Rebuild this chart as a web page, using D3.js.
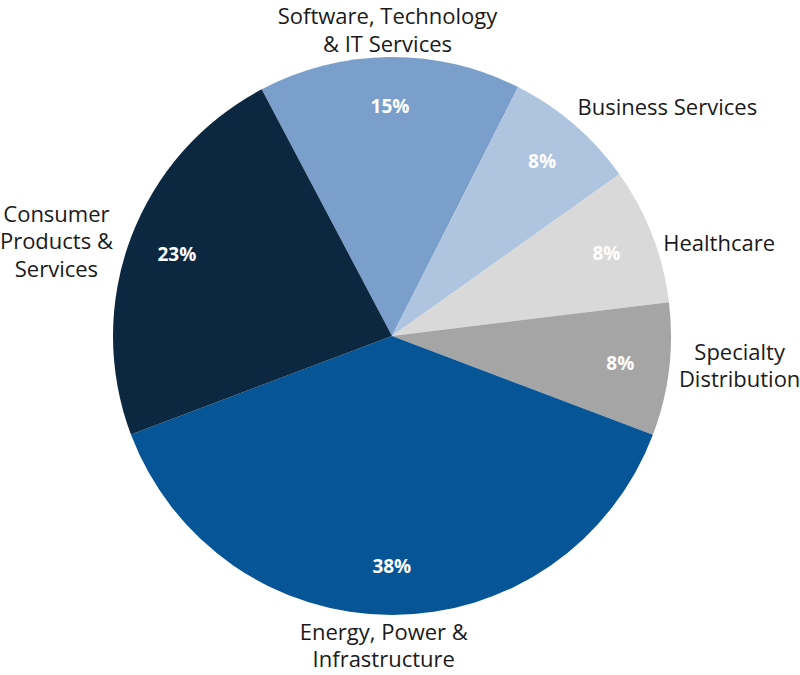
<!DOCTYPE html>
<html><head><meta charset="utf-8">
<script src="https://cdn.jsdelivr.net/npm/d3@7"></script>
<style>body{margin:0;background:#fff}svg{display:block}</style>
</head><body>
<svg id="c" width="800" height="675"></svg>
<script>
const categories = [
  ["Software, Technology", "& IT Services"],
  ["Business Services"],
  ["Healthcare"],
  ["Specialty", "Distribution"],
  ["Energy, Power &", "Infrastructure"],
  ["Consumer", "Products &", "Services"]
];
const values = [15.2, 7.7, 7.9, 7.7, 38.5, 23.0];
const pctLabels = ["15%", "8%", "8%", "8%", "38%", "23%"];
const colors = ["#7b9fcb", "#afc4df", "#d9d9d9", "#a5a5a5", "#065597", "#0c2840"];
// layout tweaks for outside labels (pixels)
const labelNudge = [[-2, 6], [-5, -7], [-1, 13], [-3, -5], [-8, 0], [-6, 9]];

const svg = d3.select("#c");
const cx = 392, cy = 336, r = 279;
const g = svg.append("g").attr("transform", `translate(${cx},${cy})`);
const start = -27.85 * Math.PI / 180;
const pie = d3.pie().sort(null).value(d => d).startAngle(start).endAngle(start + 2 * Math.PI);
const arcs = pie(values);
const arc = d3.arc().innerRadius(0).outerRadius(r);

g.selectAll("path.slice").data(arcs).join("path")
  .attr("class", "slice")
  .attr("d", arc)
  .attr("fill", (d, i) => colors[i]);

const pctArc = d3.arc().innerRadius(230).outerRadius(230);
g.selectAll("text.pct").data(arcs).join("text")
  .attr("class", "pct")
  .attr("transform", d => `translate(${pctArc.centroid(d)})`)
  .attr("text-anchor", "middle")
  .attr("dy", "0.35em")
  .attr("fill", "#fff")
  .style("font-family", "'Open Sans', sans-serif")
  .style("font-weight", "700")
  .style("font-size", "19px")
  .text((d, i) => pctLabels[i]);

const lh = 27.5;
const labelR = 292;
arcs.forEach((d, i) => {
  const a = (d.startAngle + d.endAngle) / 2;
  const s = Math.sin(a), c = -Math.cos(a);
  const px = labelR * s, py = labelR * c;
  const lines = categories[i];
  const t = g.append("text")
    .attr("text-anchor", "middle")
    .attr("fill", "#1a1a1a")
    .style("font-family", "'Open Sans', sans-serif")
    .style("font-size", "22px");
  lines.forEach((ln, j) => {
    t.append("tspan").attr("x", 0).attr("y", j * lh).attr("dy", "0.35em").text(ln);
  });
  const w = t.node().getBBox().width;
  const h = (lines.length - 1) * lh;
  let x = px, y;
  if (s > 0.3) x = px + w / 2;
  else if (s < -0.3) x = px - w / 2;
  if (Math.abs(s) <= 0.3) {
    if (c < 0) y = -r - 19 - h;
    else y = r + 17;
  } else {
    y = py - h / 2;
  }
  x += labelNudge[i][0];
  y += labelNudge[i][1];
  t.attr("transform", `translate(${x},${y})`);
});
</script>
</body></html>
